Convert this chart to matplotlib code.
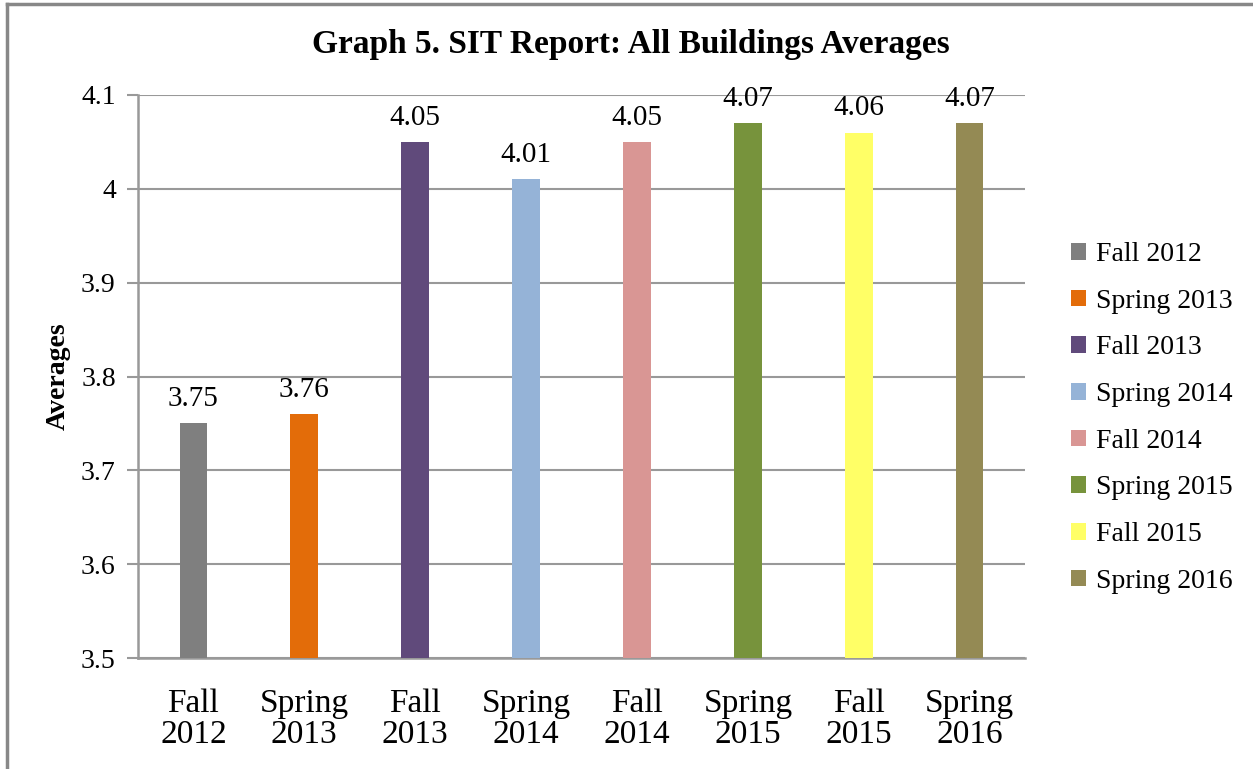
import matplotlib.pyplot as plt
from matplotlib.lines import Line2D

# data
terms = ["Fall 2012", "Spring 2013", "Fall 2013", "Spring 2014",
         "Fall 2014", "Spring 2015", "Fall 2015", "Spring 2016"]
averages = [3.75, 3.76, 4.05, 4.01, 4.05, 4.07, 4.06, 4.07]
colors = ["#7F7F7F", "#E36C09", "#604A7B", "#95B3D7",
          "#D99694", "#77933C", "#FFFF66", "#948A54"]

plt.rcParams['font.family'] = ['Liberation Serif', 'DejaVu Serif']

fig = plt.figure(figsize=(12.53, 7.69), dpi=100)
ax = fig.add_axes([138/1253, 1-658/769, (1025-138)/1253, (658-95)/769])

x = list(range(len(terms)))
bars = []
for i in x:
    b = ax.bar(i, averages[i], width=0.25, color=colors[i], label=terms[i], zorder=3)
    ax.bar_label(b, labels=["%g" % averages[i]], padding=8, fontsize=21)
    bars.append(b)

ax.set_ylim(3.5, 4.1)
ax.set_xlim(-0.5, 7.5)
ax.set_yticks([3.5, 3.6, 3.7, 3.8, 3.9, 4.0, 4.1])
ax.set_yticklabels(["3.5", "3.6", "3.7", "3.8", "3.9", "4", "4.1"], fontsize=20)
ax.set_xticks(x)
ax.set_xticklabels([t.replace(" ", "\n") for t in terms], fontsize=24, linespacing=1.0)
ax.tick_params(axis='x', length=0, pad=22)
ax.tick_params(axis='y', length=8, width=1.5, color="#999999", pad=8)
ax.grid(axis='y', color="#999999", linewidth=1.5, zorder=0)
for s in ["top", "right"]:
    ax.spines[s].set_visible(False)
for s in ["left", "bottom"]:
    ax.spines[s].set_color("#999999")
    ax.spines[s].set_linewidth(1.8)

fig.text(58/1253, 1-376/769, "Averages", rotation=90, fontsize=20, fontweight="bold",
         ha="center", va="center")
fig.text(631/1253, 1-45/769, "Graph 5. SIT Report: All Buildings Averages",
         fontsize=24, fontweight="bold", ha="center", va="center")

fig.legend(handles=[b[0] for b in bars], labels=terms, loc="center left",
           bbox_to_anchor=(1046/1253, 1-418/769), frameon=False, fontsize=20,
           handlelength=0.55, handleheight=0.55, handletextpad=0.35, labelspacing=0.78)

# outer chart border (left and top only visible)
fig.add_artist(Line2D([7/1253, 7/1253], [0, 1-3.5/769], color="#888888", linewidth=2.5,
                      transform=fig.transFigure))
fig.add_artist(Line2D([7/1253, 1], [1-3.5/769, 1-3.5/769], color="#888888", linewidth=2.5,
                      transform=fig.transFigure))

plt.savefig("out.png", dpi=100)
